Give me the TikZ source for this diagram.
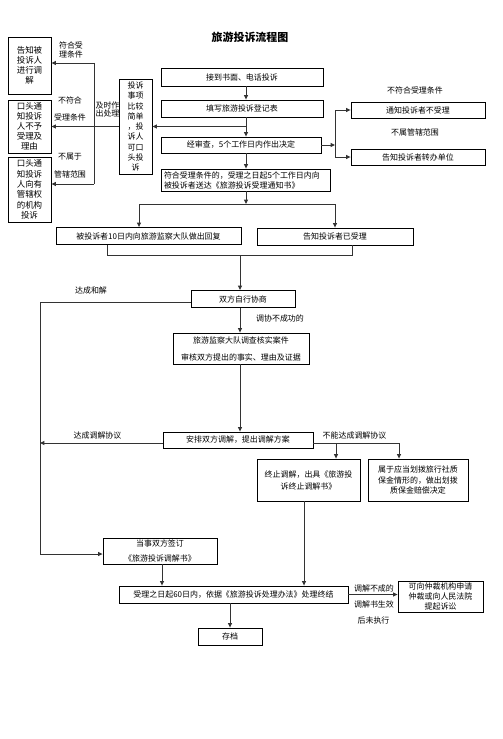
\documentclass[tikz,border=0pt]{standalone}
\usepackage{fontspec}
\setmainfont{Noto Sans CJK SC}
\usetikzlibrary{arrows.meta,calc}
\begin{document}
\begin{tikzpicture}[x=1bp,y=-1bp,
  box/.style={draw=black,line width=0.8pt,inner sep=0pt,align=center,font=\fontsize{8}{10}\selectfont},
  lbl/.style={inner sep=0pt,align=center,font=\fontsize{8}{10}\selectfont},
  ln/.style={line width=1pt,draw=black!80},
  arr/.style={ln,-{Triangle[length=4.5pt,width=4pt]}}]
\fill[white] (0,0) rectangle (503,739);
\useasboundingbox (0,0) rectangle (503,739);
% title
\node[inner sep=0pt,font=\fontsize{11}{13}\selectfont\bfseries] (title) at (250,37) {旅游投诉流程图};
% main column
\node[box,minimum width=162bp,minimum height=18bp] (n1) at (242,77) {接到书面、电话投诉};
\node[box,minimum width=162bp,minimum height=17bp] (n2) at (242,108.5) {填写旅游投诉登记表};
\node[box,minimum width=160bp,minimum height=16bp] (n3) at (241,145) {经审查，5个工作日内作出决定};
\node[box,text width=163bp,inner xsep=3bp,align=left,minimum height=22bp] (n4) at (245.5,180) {符合受理条件的，受理之日起5个工作日内向\\被投诉者送达《旅游投诉受理通知书》};
% left boxes
\node[box,minimum width=33bp,minimum height=95bp,font=\fontsize{8}{10.3}\selectfont] (D) at (135.5,126.5) {投诉\\事项\\比较\\简单\\，投\\诉人\\可口\\头投\\诉};
\node[box,minimum width=43bp,minimum height=57bp,font=\fontsize{8.5}{10}\selectfont] (A) at (29.5,65.5) {告知被\\投诉人\\进行调\\解};
\node[box,minimum width=43bp,minimum height=53bp,font=\fontsize{8.5}{10}\selectfont] (B) at (29.5,126.5) {口头通\\知投诉\\人不予\\受理及\\理由};
\node[box,minimum width=43bp,minimum height=65bp,font=\fontsize{8.5}{10.4}\selectfont] (C) at (29.5,189.5) {口头通\\知投诉\\人向有\\管辖权\\的机构\\投诉};
% left labels
\node[lbl,font=\fontsize{8}{9}\selectfont] (l1) at (71,50) {符合受\\理条件};
\node[lbl] (l2) at (70,100) {不符合};
\node[lbl] (l3) at (70,117) {受理条件};
\node[lbl] (l4) at (70,157) {不属于};
\node[lbl] (l5) at (70,174) {管辖范围};
\node[lbl,font=\fontsize{8}{9}\selectfont] (l6) at (107.5,109.5) {及时作\\出处理};
% right boxes
\node[box,minimum width=134bp,minimum height=16bp] (r1) at (418,110) {通知投诉者不受理};
\node[box,minimum width=134bp,minimum height=16bp] (r2) at (418,157) {告知投诉者转办单位};
\node[lbl] (rl1) at (415,90) {不符合受理条件};
\node[lbl] (rl2) at (415,132) {不属管辖范围};
% row 2
\node[box,minimum width=185bp,minimum height=17bp] (b1) at (148.5,236) {被投诉者10日内向旅游监察大队做出回复};
\node[box,minimum width=156bp,minimum height=17bp] (b2) at (335,236.5) {告知投诉者已受理};
\node[box,minimum width=104bp,minimum height=17bp] (c1) at (243,299) {双方自行协商};
\node[box,minimum width=136bp,minimum height=31bp,font=\fontsize{8}{17}\selectfont] (c2) at (241,348.5) {旅游监察大队调查核实案件\\审核双方提出的事实、理由及证据};
\node[box,minimum width=150bp,minimum height=16bp] (c3) at (238,440) {安排双方调解，提出调解方案};
\node[lbl] (cl1) at (91,290) {达成和解};
\node[lbl] (cl2) at (280,318) {调协不成功的};
\node[lbl] (cl3) at (97.5,435) {达成调解协议};
\node[lbl] (cl4) at (354.5,435) {不能达成调解协议};
\node[box,minimum width=103bp,minimum height=42bp,font=\fontsize{8}{12}\selectfont] (d1) at (308.5,480) {终止调解，出具《旅游投\\诉终止调解书》};
\node[box,minimum width=100bp,minimum height=42bp,font=\fontsize{8}{10.5}\selectfont] (d2) at (418,480) {属于应当划拨旅行社质\\保金情形的，做出划拨\\质保金赔偿决定};
\node[box,minimum width=114bp,minimum height=26bp,font=\fontsize{8}{15}\selectfont] (s1) at (160,551) {当事双方签订\\《旅游投诉调解书》};
\node[box,minimum width=229bp,minimum height=17bp] (e1) at (233.5,594.5) {受理之日起60日内，依据《旅游投诉处理办法》处理终结};
\node[box,minimum width=85bp,minimum height=31bp,font=\fontsize{8}{9.6}\selectfont] (f1) at (440.5,596.5) {可向仲裁机构申请\\仲裁或向人民法院\\提起诉讼};
\node[box,minimum width=64bp,minimum height=17bp] (g1) at (230,636.5) {存档};
\node[lbl] (el1) at (374,588) {调解不成的};
\node[lbl] (el2) at (374,604) {调解书生效};
\node[lbl] (el3) at (373.5,620) {后未执行};
% coordinates
\coordinate (mx) at (246,0);
\coordinate (j1) at (246,126.5);
\coordinate (v1) at (94,63);
\coordinate (v2) at (94,184);
\coordinate (rv) at (335,0);
\coordinate (sp) at (246,204);
\coordinate (spl) at (139,204);
\coordinate (spr) at (335,204);
\coordinate (bl) at (107,255);
\coordinate (br) at (352,255);
\coordinate (bm) at (240,255);
\coordinate (cx) at (240,0);
\coordinate (La) at (40,302);
\coordinate (Lb) at (40,443);
\coordinate (Lc) at (40,554);
\coordinate (rA) at (336,443);
\coordinate (rB) at (399,443);
\coordinate (dx) at (304,0);
\coordinate (sx) at (162,0);
% connectors
\draw[arr] (n1.south -| mx) -- (n2.north -| mx);
\draw[arr] (n2.south -| mx) -- (n3.north -| mx);
\draw[arr] (n3.south -| mx) -- (n4.north -| mx);
\draw[arr] (j1) -- (D.east |- j1);
\draw[arr] (D.west) -- (B.east);
\draw[ln] (v1) -- (v2);
\draw[arr] (v1) -- (A.east |- v1);
\draw[arr] (v2) -- (C.east |- v2);
\draw[arr] (n3.east) -- (n3.east -| rv);
\draw[ln] (rv |- r1.west) -- (rv |- r2.west);
\draw[arr] (rv |- r1.west) -- (r1.west);
\draw[arr] (rv |- r2.west) -- (r2.west);
\draw[arr] (n4.south -| mx) -- (sp);
\draw[ln] (spl) -- (spr);
\draw[arr] (spl) -- (spl |- b1.north);
\draw[arr] (spr) -- (spr |- b2.north);
\draw[ln] (bl |- b1.south) -- (bl) -- (br) -- (br |- b2.south);
\draw[arr] (bm) -- (bm |- c1.north);
\draw[arr] (c1.south -| cx) -- (c2.north -| cx);
\draw[arr] (c2.south -| cx) -- (c3.north -| cx);
\draw[arr] (c1.west |- La) -- (La) -- (Lc) -- (s1.west |- Lc);
\draw[arr] (c3.west |- Lb) -- (Lb);
\draw[ln] (c3.east |- rA) -- (rB);
\draw[arr] (rA) -- (rA |- d1.north);
\draw[arr] (rB) -- (rB |- d2.north);
\draw[arr] (d1.south -| dx) -- (e1.north -| dx);
\draw[arr] (s1.south -| sx) -- (e1.north -| sx);
\draw[arr] (e1.east) -- (e1.east -| f1.west);
\draw[arr] (e1.south -| g1.north) -- (g1.north);
\end{tikzpicture}
\end{document}
